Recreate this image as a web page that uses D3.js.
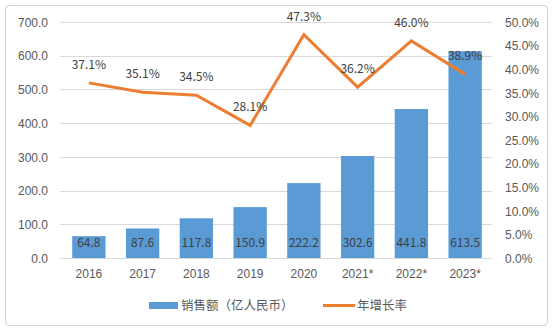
<!DOCTYPE html>
<html>
<head>
<meta charset="utf-8">
<script src="https://cdn.jsdelivr.net/npm/d3@7"></script>
<style>
  html, body { margin: 0; padding: 0; background: #fff; }
  svg { display: block; font-family: "Noto Sans CJK SC", "Noto Sans", sans-serif; }
</style>
</head>
<body>
<svg id="chart" width="554" height="333"></svg>
<script>
// Sales (100M RMB) and year-on-year growth rate
const years = ["2016", "2017", "2018", "2019", "2020", "2021*", "2022*", "2023*"];
const sales = [64.8, 87.6, 117.8, 150.9, 222.2, 302.6, 441.8, 613.5];
const growth = [37.1, 35.1, 34.5, 28.1, 47.3, 36.2, 46.0, 38.9];
const leftTicks = [0, 100, 200, 300, 400, 500, 600, 700];
const rightTicks = [0, 5, 10, 15, 20, 25, 30, 35, 40, 45, 50];
const legendLabels = ["销售额（亿人民币）", "年增长率"];

const barColor = "#5B9BD5";
const lineColor = "#ED7D31";
const textColor = "#595959";
const gridColor = "#D9D9D9";

const svg = d3.select("#chart");
const W = 554, H = 333;
const plot = { left: 62, right: 492, top: 22, bottom: 258 };

// frame
svg.append("rect")
  .attr("x", 5.5).attr("y", 5.5)
  .attr("width", W - 12).attr("height", H - 13)
  .attr("rx", 4)
  .attr("fill", "#fff").attr("stroke", "#D0D0D0").attr("stroke-width", 1);

const x = d3.scaleBand().domain(years).range([plot.left, plot.right]).paddingInner(0.38).paddingOuter(0.19);
const yL = d3.scaleLinear().domain([0, 700]).range([plot.bottom, plot.top]);
const yR = d3.scaleLinear().domain([0, 50]).range([plot.bottom, plot.top]);

// gridlines
svg.append("g")
  .selectAll("line")
  .data(leftTicks)
  .join("line")
  .attr("x1", plot.left - 2).attr("x2", plot.right)
  .attr("y1", d => Math.round(yL(d)) + 0.5).attr("y2", d => Math.round(yL(d)) + 0.5)
  .attr("stroke", gridColor).attr("stroke-width", 1);

// left axis
const leftAxis = svg.append("g")
  .attr("transform", `translate(${plot.left - 14},0)`)
  .call(d3.axisLeft(yL).tickValues(leftTicks).tickFormat(d3.format(".1f")).tickSize(0).tickPadding(0));
leftAxis.select(".domain").remove();
leftAxis.selectAll("text").attr("fill", textColor).style("font-size", "12px").attr("dy", "0.35em");

// right axis
const rightAxis = svg.append("g")
  .attr("transform", `translate(${plot.right + 13},0)`)
  .call(d3.axisRight(yR).tickValues(rightTicks).tickFormat(d => d3.format(".1f")(d) + "%").tickSize(0).tickPadding(0));
rightAxis.select(".domain").remove();
rightAxis.selectAll("text").attr("fill", textColor).style("font-size", "12px").attr("dy", "0.35em");

// bottom axis labels
const bottomAxis = svg.append("g")
  .attr("transform", `translate(0,${plot.bottom})`)
  .call(d3.axisBottom(x).tickSize(0).tickPadding(11));
bottomAxis.select(".domain").remove();
bottomAxis.selectAll("text").attr("fill", textColor).style("font-size", "12px");

// bars
svg.append("g")
  .selectAll("rect")
  .data(sales)
  .join("rect")
  .attr("x", (d, i) => x(years[i]))
  .attr("width", x.bandwidth())
  .attr("y", d => yL(d))
  .attr("height", d => plot.bottom - yL(d))
  .attr("fill", barColor);

// bar value labels
svg.append("g")
  .selectAll("text")
  .data(sales)
  .join("text")
  .attr("x", (d, i) => x(years[i]) + x.bandwidth() / 2)
  .attr("y", plot.bottom - 11)
  .attr("text-anchor", "middle")
  .attr("fill", "#404040")
  .style("font-size", "12px")
  .text(d => d3.format(".1f")(d));

// growth line
const line = d3.line()
  .x((d, i) => x(years[i]) + x.bandwidth() / 2)
  .y(d => yR(d));
svg.append("path")
  .datum(growth)
  .attr("d", line)
  .attr("fill", "none")
  .attr("stroke", lineColor)
  .attr("stroke-width", 3)
  .attr("stroke-linejoin", "miter");

// growth labels
svg.append("g")
  .selectAll("text")
  .data(growth)
  .join("text")
  .attr("x", (d, i) => x(years[i]) + x.bandwidth() / 2)
  .attr("y", d => yR(d) - 14)
  .attr("text-anchor", "middle")
  .attr("fill", "#404040")
  .style("font-size", "12px")
  .text(d => d3.format(".1f")(d) + "%");

// legend
const lg = svg.append("g");
lg.append("rect")
  .attr("x", 149).attr("y", 302).attr("width", 29).attr("height", 7)
  .attr("fill", barColor);
lg.append("text")
  .attr("x", 181).attr("y", 310)
  .attr("fill", textColor).style("font-size", "12.5px")
  .text(legendLabels[0]);
lg.append("line")
  .attr("x1", 323).attr("x2", 355).attr("y1", 305.5).attr("y2", 305.5)
  .attr("stroke", lineColor).attr("stroke-width", 3);
lg.append("text")
  .attr("x", 357).attr("y", 310)
  .attr("fill", textColor).style("font-size", "12.5px")
  .text(legendLabels[1]);
</script>
</body>
</html>
